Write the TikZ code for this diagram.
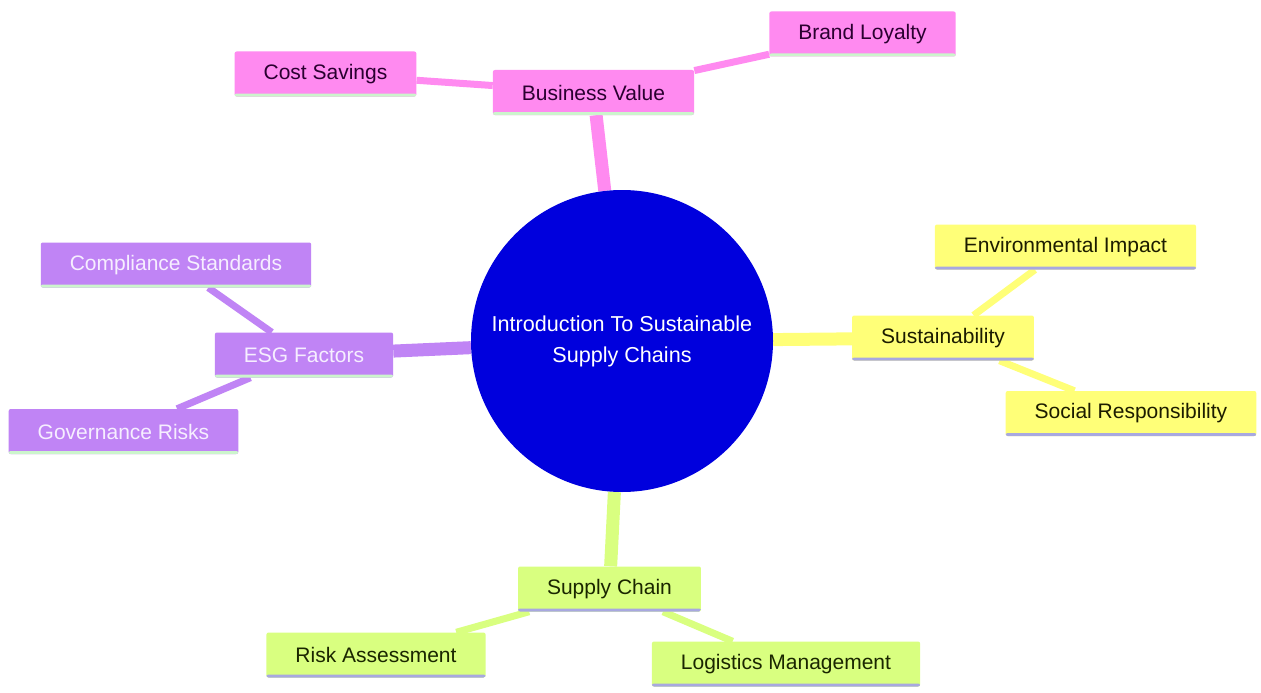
\documentclass[tikz,border=0pt]{standalone}
\usepackage{fontspec}
\setmainfont{Liberation Sans}
\usetikzlibrary{backgrounds}

\definecolor{rootblue}{HTML}{0000DD}
\definecolor{bizpink}{HTML}{FF8AF0}
\definecolor{biztext}{HTML}{2A0030}
\definecolor{esgpurple}{HTML}{C084F5}
\definecolor{esgtext}{HTML}{F6EEFF}
\definecolor{susyellow}{HTML}{FFFF78}
\definecolor{sustext}{HTML}{1C1C00}
\definecolor{chainlime}{HTML}{D9FF80}
\definecolor{chaintext}{HTML}{1A2600}
\definecolor{mintline}{HTML}{CCF5CC}
\definecolor{lavline}{HTML}{A8A8E0}

\tikzset{
  box/.style 2 args={rectangle, rounded corners=2pt, fill=#1, minimum height=45pt,
    inner xsep=29pt, font=\fontsize{21}{25}\selectfont,
    path picture={\fill[#2] ([yshift=3pt]path picture bounding box.south west)
      rectangle (path picture bounding box.south east);}},
}

\begin{document}
\begin{tikzpicture}[x=1pt,y=-1pt]
    \useasboundingbox (0,0) rectangle (1261,693);
    \node (root) [circle, fill=rootblue, minimum size=302pt, inner sep=0pt, text=white,
        align=center, font=\fontsize{21.6}{31}\selectfont] at (622,341)
        {Introduction To Sustainable\\Supply Chains};
    \begin{scope}[every node/.style={box={bizpink}{mintline}, text=biztext}]
        \node (bv) at (593.5,92.5) {Business Value};
        \node (cost) at (325.5,74) {Cost Savings};
        \node (brand) at (862.5,34) {Brand Loyalty};
    \end{scope}
    \begin{scope}[every node/.style={box={esgpurple}{mintline}, text=esgtext}]
        \node (esg) at (304,355) {ESG Factors};
        \node (comp) at (176,265) {Compliance Standards};
        \node (gov) at (123.5,431.5) {Governance Risks};
    \end{scope}
    \begin{scope}[every node/.style={box={susyellow}{lavline}, text=sustext}]
        \node (sust) at (943,338) {Sustainability};
        \node (env) at (1065.5,247) {Environmental Impact};
        \node (soc) at (1131,413.5) {Social Responsibility};
    \end{scope}
    \begin{scope}[every node/.style={box={chainlime}{lavline}, text=chaintext}]
        \node (sc) at (609.5,589) {Supply Chain};
        \node (risk) at (376,655) {Risk Assessment};
        \node (logi) at (786,664) {Logistics Management};
    \end{scope}
    \begin{scope}[on background layer, every edge/.style={draw, line width=7pt}]
        \fill[white] (0,0) rectangle (1261,693);
        \path
            (root) edge [bizpink, line width=13pt] (bv)
            (bv) edge [bizpink] (cost)
            (bv) edge [bizpink] (brand)
            (root) edge [esgpurple, line width=13pt] (esg)
            (esg) edge [esgpurple] (comp)
            (esg) edge [esgpurple] (gov)
            (root) edge [susyellow, line width=13pt] (sust)
            (sust) edge [susyellow] (env)
            (sust) edge [susyellow] (soc)
            (root) edge [chainlime, line width=13pt] (sc)
            (sc) edge [chainlime] (risk)
            (sc) edge [chainlime] (logi);
    \end{scope}
\end{tikzpicture}
\end{document}
